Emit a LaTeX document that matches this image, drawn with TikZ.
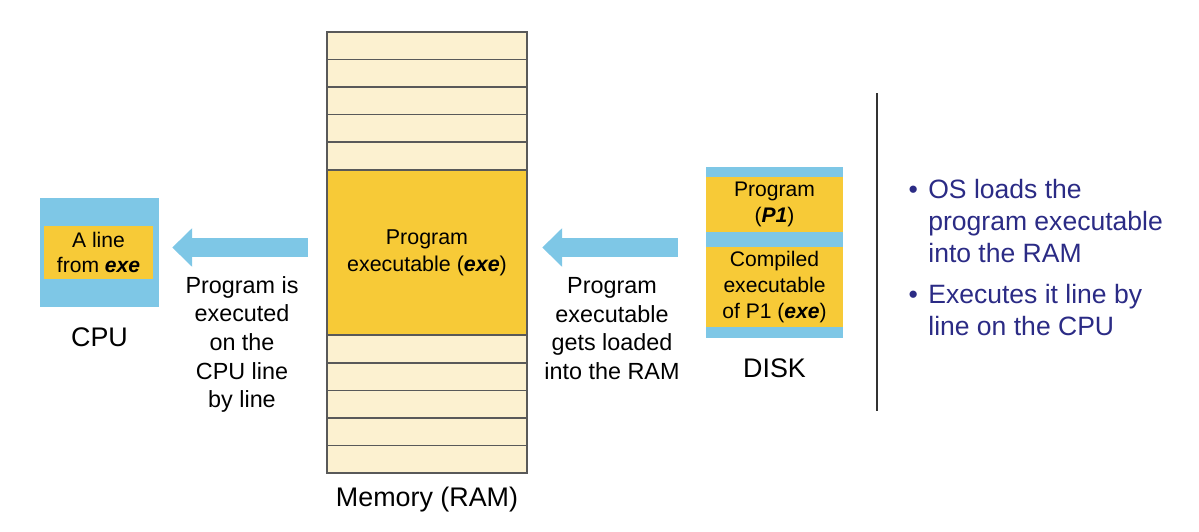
\documentclass[tikz,border=0pt]{standalone}
\usepackage{fontspec}
\setmainfont{Liberation Sans}
\usetikzlibrary{positioning,arrows.meta}
\definecolor{skyblue}{RGB}{126,199,230}
\definecolor{gold}{RGB}{247,202,55}
\definecolor{cream}{RGB}{252,241,208}
\definecolor{navy}{RGB}{43,43,133}
\newcommand{\exe}{\textbf{\textit{exe}}}

\begin{document}
\begin{tikzpicture}[x=0.02cm, y=-0.02cm]
        \tikzstyle{cell} = [rectangle, minimum width=4cm, minimum height=0.55125cm, inner sep=0, draw=black!65, line width=0.9pt, fill=cream]
        \tikzstyle{boxtext} = [align=center, font=\fontsize{12}{14.6}\selectfont]
        \tikzstyle{caption} = [inner sep=0, font=\fontsize{15.3}{18}\selectfont]
        \tikzstyle{note} = [inner sep=0, align=center, font=\fontsize{13.3}{16.3}\selectfont]
        \tikzstyle{bullets} = [inner sep=0, anchor=north west, align=left, text=navy, font=\fontsize{15.1}{18.1}\selectfont]
        \tikzstyle{bigarrow} = [draw=skyblue, line width=10.5pt, -{Triangle[length=11.3pt, width=22.1pt, line width=0pt]}]

        \useasboundingbox (0,0) rectangle (1199,531);

        % memory
        \node (mem) [rectangle, minimum width=4cm, minimum height=8.82cm, inner sep=0] at (427,252.5) {};
        \foreach \i in {0,...,15}
            \node (cell\i) [cell] at (427,{32+27.5625*(\i+0.5)}) {};
        \node (exe) [cell, fill=gold, minimum height=3.3075cm, boxtext, font=\fontsize{12.2}{15.3}\selectfont] at (427,252.5) {Program\\executable (\exe)};
        \node (memlabel) [caption, below=0.27cm of mem] {Memory (RAM)};

        % cpu
        \node (cpu) [rectangle, fill=skyblue, minimum width=2.38cm, minimum height=2.18cm, inner sep=0] at (99.5,252.5) {};
        \node (line) [rectangle, fill=gold, minimum width=2.18cm, minimum height=1.06cm, inner sep=0, boxtext] at (98.5,252.5) {A line\\from \exe};
        \node (cpulabel) [caption, below=0.4cm of cpu] {CPU};

        % disk
        \node (disk) [rectangle, fill=skyblue, minimum width=2.74cm, minimum height=3.42cm, inner sep=0] at (774.5,252.5) {};
        \node (prog) [rectangle, fill=gold, minimum width=2.74cm, minimum height=1.1cm, inner sep=0, boxtext] at (774.5,204.5) {Program\\(\textbf{\textit{P1}})};
        \node (comp) [rectangle, fill=gold, minimum width=2.74cm, minimum height=1.6cm, inner sep=0, boxtext] at (774.5,287) {Compiled\\executable\\of P1 (\exe)};
        \node (disklabel) [caption, below=0.4cm of disk] {DISK};

        \draw [bigarrow] ([xshift=-0.56cm, yshift=0.1cm]disk.west) -- ([xshift=0.3cm, yshift=0.1cm]mem.east);
        \draw [bigarrow] ([xshift=-0.38cm, yshift=0.1cm]mem.west) -- ([xshift=0.26cm, yshift=0.1cm]cpu.east);

        \node (loaded) [note, anchor=north] at (612,277) {Program\\executable\\gets loaded\\into the RAM};
        \node (executed) [note, anchor=north] at (242,276) {Program is\\executed\\on the\\CPU line\\by line};

        % divider and notes
        \draw [black!80, line width=1.1pt] (877,93) -- (877,411);
        \node (os) [bullets] at (928,179) {\llap{\textbullet\hspace{6pt}}OS loads the\\program executable\\into the RAM};
        \node (run) [bullets] at (928,284) {\llap{\textbullet\hspace{6pt}}Executes it line by\\line on the CPU};
    \end{tikzpicture}
\end{document}
